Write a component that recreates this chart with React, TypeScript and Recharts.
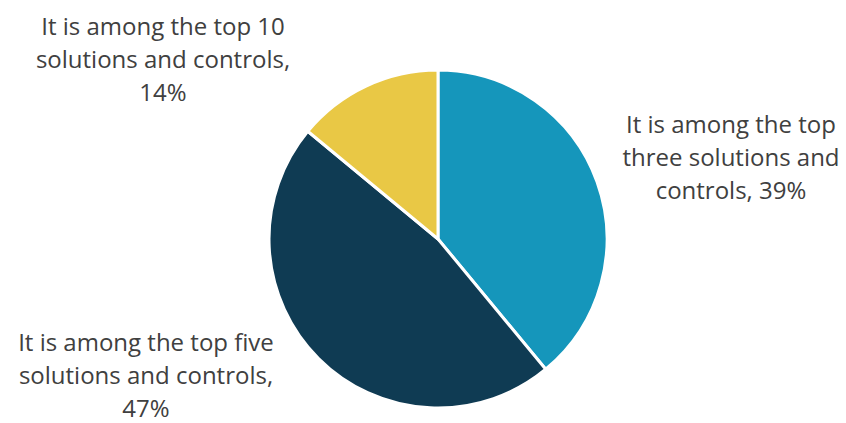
import { Cell, Pie, PieChart } from "recharts";

// slice order: clockwise from 12 o'clock
const names = ["top three", "top five", "top 10"];
const shares = [39, 47, 14];
const labelLines = [
  ["It is among the top", "three solutions and", "controls, 39%"],
  ["It is among the top five", "solutions and controls,", "47%"],
  ["It is among the top 10", "solutions and controls,", "14%"],
];

const COLORS = ["#1596BB", "#0F3B53", "#E9C845"];
const INK = "#404040";
const FONT = "'Open Sans', sans-serif";
// label block: offset from pie centre (x = middle of text, y = first baseline)
const LABEL_OFF = [
  { dx: 293, dy: -106 },
  { dx: -292, dy: 112 },
  { dx: -275, dy: -204 },
];
const LINE_H = 33;

const data = names.map((n, i) => ({ name: n, value: shares[i] }));

function SliceLabel(props: { cx?: number; cy?: number; index?: number }) {
  const { cx = 0, cy = 0, index = 0 } = props;
  const off = LABEL_OFF[index];
  return (
    <text x={cx + off.dx} y={cy + off.dy} textAnchor="middle" fill={INK}
          fontSize={24} fontFamily={FONT}>
      {labelLines[index].map((l, k) => (
        <tspan key={k} x={cx + off.dx} y={cy + off.dy + k * LINE_H}>{l}</tspan>
      ))}
    </text>
  );
}

export default function App() {
  return (
    <div style={{ position: "absolute", left: 0, top: 0, background: "#fff" }}>
      <PieChart width={846} height={423} margin={{ top: 0, right: 0, bottom: 0, left: 0 }}>
        <Pie data={data} dataKey="value" cx={438} cy={239} outerRadius={169}
             startAngle={90} endAngle={-270} stroke="#fff" strokeWidth={3}
             label={SliceLabel} labelLine={false} isAnimationActive={false}>
          {data.map((d, i) => <Cell key={d.name} fill={COLORS[i]} />)}
        </Pie>
      </PieChart>
    </div>
  );
}
